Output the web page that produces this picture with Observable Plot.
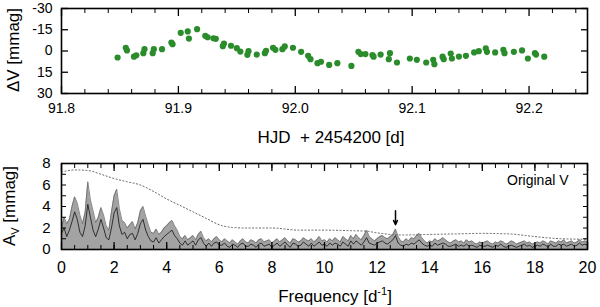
<!DOCTYPE html>
<html>
<head>
<meta charset="utf-8">
<script src="https://cdn.jsdelivr.net/npm/d3@7"></script>
<script src="https://cdn.jsdelivr.net/npm/@observablehq/plot@0.6"></script>
<style>
  html, body { margin: 0; padding: 0; background: white; }
  #chart { position: relative; width: 600px; height: 307px; overflow: hidden; font-family: "Liberation Sans", Arial, sans-serif; }
  #chart svg { position: absolute; left: 0; }
</style>
</head>
<body>
<div id="chart"></div>
<script>
// ---------- Light curve (top panel) ----------
const hjd = [91.848, 91.855, 91.856, 91.862, 91.864, 91.870, 91.871, 91.878, 91.879, 91.886,
  91.894, 91.895, 91.902, 91.908, 91.909, 91.916, 91.923, 91.925, 91.930, 91.932,
  91.939, 91.938, 91.945, 91.950, 91.953, 91.960, 91.959, 91.967, 91.974, 91.975,
  91.981, 91.983, 91.989, 91.991, 91.998, 92.005, 92.011, 92.013, 92.019, 92.022,
  92.029, 92.036, 92.048, 92.054, 92.056, 92.060, 92.066, 92.067, 92.073, 92.081,
  92.080, 92.087, 92.098, 92.104, 92.112, 92.118, 92.119, 92.126, 92.127, 92.133,
  92.134, 92.140, 92.146, 92.153, 92.157, 92.163, 92.164, 92.171, 92.178, 92.179,
  92.187, 92.194, 92.199, 92.205, 92.206, 92.213];
const deltaV = [4.6, -2.3, -0.4, 4.0, 3.0, 1.5, -1.3, 1.5, -1.3, -1.3,
  -6.0, -4.8, -12.8, -13.8, -8.8, -15.4, -10.7, -9.7, -9.0, -8.6,
  -5.3, -3.4, -3.7, -2.0, 0.4, 0.1, 2.7, 2.5, 1.5, -0.1,
  -2.3, -0.8, -1.3, -3.2, -2.3, 0.6, 3.4, 5.8, 8.6, 7.6,
  9.8, 8.6, 10.5, 0.6, 2.2, 2.2, 2.9, 4.0, 2.5, 1.5,
  5.8, 8.1, 5.3, 6.2, 8.1, 6.2, 9.3, 4.0, 5.8, 1.8,
  5.3, 3.9, 3.4, 1.0, 0.1, -1.8, 0.6, 1.0, -0.8, 1.5,
  0.6, -0.4, 5.3, 1.5, 2.5, 4.0];
const topXTicks = [91.8, 91.9, 92.0, 92.1, 92.2];
const topXMinor = [91.82, 91.84, 91.86, 91.88, 91.92, 91.94, 91.96, 91.98, 92.02, 92.04, 92.06, 92.08, 92.12, 92.14, 92.16, 92.18, 92.22, 92.24];
const topYTicks = [-30, -15, 0, 15, 30];

// ---------- Amplitude spectrum (bottom panel), sampled every 0.1 d^-1 from 0 to 20 ----------
const freqStep = 0.1;
const ampEnvelope = [
  2.0, 3.0, 2.4, 2.8, 4.0, 4.9, 4.3, 3.2, 2.4, 3.5,
  6.3, 4.6, 3.6, 2.5, 3.0, 3.9, 3.2, 2.2, 1.8, 3.5,
  5.0, 5.6, 3.8, 2.7, 2.5, 2.0, 2.3, 2.6, 1.9, 2.5,
  3.6, 4.0, 3.1, 2.3, 1.6, 1.5, 1.9, 1.4, 1.6, 2.0,
  2.2, 2.5, 2.7, 2.2, 1.8, 1.2, 1.0, 1.3, 0.9, 1.1,
  1.3, 0.9, 1.4, 1.7, 1.1, 0.8, 1.0, 0.7, 1.0, 1.2,
  0.9,
  0.7, 1.0, 0.8, 0.6, 0.9, 0.7, 0.5, 0.8, 1.0, 0.7, 0.6, 0.9, 0.8, 0.6, 0.9, 1.0, 0.7, 0.8, 0.9, 0.6,
  0.8, 1.0, 0.7, 0.9, 1.1, 0.8, 0.6, 1.0, 0.9, 0.7, 0.8, 1.1, 0.9, 0.8, 1.0, 0.7, 0.9, 1.2, 0.8, 0.9,
  0.7, 1.0, 0.8, 1.1, 0.9, 0.7, 1.2, 1.0, 0.8, 1.3, 1.0, 1.4, 1.1, 0.9, 1.3, 1.8, 1.2, 1.0, 0.8, 1.0,
  1.2, 1.3, 1.1, 1.0, 1.2, 1.4, 1.9, 1.2, 0.8, 0.7, 1.0, 0.8, 1.1, 1.0, 1.3, 1.5, 1.1, 0.8, 0.6, 0.8,
  0.7, 1.0, 0.8, 0.9, 1.1, 0.9, 0.7, 0.6, 0.8, 0.9, 0.7, 0.8, 0.6, 0.9, 0.7, 0.8, 0.6, 0.5, 0.7, 0.6,
  0.7, 0.8, 0.6, 0.5, 0.7, 0.6, 0.8, 0.7, 0.5, 0.6, 0.8, 0.7, 0.5, 0.6, 0.7, 0.8, 0.6, 0.7, 0.5, 0.6,
  0.7, 0.6, 0.8, 0.7, 0.5, 0.8, 0.7, 0.6, 0.8, 0.7, 0.9, 0.6, 0.7, 0.8, 0.6, 0.7, 0.9, 0.7, 0.8, 0.7];
const ampCore = [
  1.5, 2.0, 1.2, 1.8, 2.6, 3.5, 2.8, 1.6, 1.2, 2.2,
  4.2, 3.0, 1.8, 1.2, 1.9, 2.8, 2.0, 1.1, 0.9, 2.0,
  3.4, 3.9, 2.2, 1.4, 1.6, 1.0, 1.4, 1.5, 0.9, 1.5,
  2.4, 2.8, 1.8, 1.2, 0.8, 0.7, 1.1, 0.6, 0.9, 1.2,
  1.4, 1.6, 1.8, 1.3, 1.0, 0.6, 0.4, 0.8, 0.4, 0.6,
  0.8, 0.4, 0.9, 1.1, 0.6, 0.3, 0.6, 0.3, 0.6, 0.7,
  0.4,
  0.4, 0.6, 0.3, 0.2, 0.5, 0.4, 0.2, 0.5, 0.6, 0.3,
  0.3, 0.5, 0.4, 0.2, 0.5, 0.6, 0.3, 0.4, 0.5, 0.2,
  0.4, 0.6, 0.3, 0.5, 0.7, 0.4, 0.2, 0.6, 0.5, 0.3,
  0.4, 0.7, 0.5, 0.3, 0.6, 0.3, 0.5, 0.7, 0.4, 0.5,
  0.3, 0.6, 0.4, 0.6, 0.5, 0.3, 0.7, 0.5, 0.3, 0.8,
  0.5, 0.8, 0.6, 0.4, 0.7, 1.1, 0.6, 0.5, 0.4, 0.6,
  0.7, 0.8, 0.6, 0.5, 0.7, 0.9, 1.3, 0.6, 0.4, 0.3,
  0.5, 0.4, 0.6, 0.5, 0.7, 0.9, 0.6, 0.4, 0.3, 0.4,
  0.3, 0.6, 0.4, 0.5, 0.6, 0.5, 0.3, 0.3, 0.4, 0.5,
  0.3, 0.4, 0.3, 0.5, 0.3, 0.4, 0.3, 0.2, 0.4, 0.3,
  0.3, 0.4, 0.3, 0.2, 0.4, 0.3, 0.5, 0.3, 0.2, 0.3,
  0.4, 0.3, 0.2, 0.3, 0.4, 0.5, 0.3, 0.4, 0.2, 0.3,
  0.4, 0.3, 0.5, 0.4, 0.2, 0.5, 0.3, 0.3, 0.5, 0.4,
  0.5, 0.3, 0.4, 0.5, 0.3, 0.4, 0.6, 0.4, 0.5, 0.4];
// significance level (dotted)
const sigFreq = [0, 0.5, 1, 1.5, 2, 2.5, 3, 3.5, 4, 4.5, 5, 5.5, 6, 6.5, 7, 8, 9, 10, 11, 11.6, 12, 12.5, 13, 14, 15, 16, 17, 18, 19, 20];
const sigAmp  = [7.2, 7.4, 7.35, 7.0, 6.6, 6.3, 6.0, 5.4, 4.7, 4.1, 3.5, 2.9, 2.3, 2.05, 2.0, 2.0, 1.8, 1.8, 1.75, 1.7, 1.55, 1.4, 1.35, 1.4, 1.45, 1.5, 1.45, 1.2, 1.0, 0.95];
// marked frequency
const markedFreq = [12.7];
const arrowFrom = [3.6];
const arrowTo = [2.3];
const botXTicks = [0, 2, 4, 6, 8, 10, 12, 14, 16, 18, 20];
const botXMinor = d3.range(0, 20.01, 0.5);
const botYTicks = [0, 2, 4, 6, 8];
const botYMinor = [0, 1, 2, 3, 4, 5, 6, 7, 8];

const FONT = '"Liberation Sans", Arial, Helvetica, sans-serif';
const chart = document.getElementById("chart");

// ---------- top plot ----------
const lc = hjd.map((t, i) => ({t, dv: deltaV[i]}));
const topPlot = Plot.plot({
  width: 600, height: 145,
  marginLeft: 61, marginRight: 13, marginTop: 8, marginBottom: 52,
  style: {fontFamily: FONT, fontSize: "14px", color: "black", background: "transparent", overflow: "visible"},
  x: {domain: [91.8, 92.25]},
  y: {domain: [30, -30]},
  marks: [
    Plot.dot(lc, {x: "t", y: "dv", r: 3.1, fill: "#2a8c2a", stroke: "none"}),
    Plot.axisX(topXMinor, {anchor: "bottom", tickSize: -4, tickFormat: () => "", label: null}),
    Plot.axisX(topXMinor, {anchor: "top", tickSize: -4, tickFormat: () => "", label: null}),
    Plot.axisX(topXTicks, {anchor: "bottom", tickSize: -7, tickFormat: () => "", label: null, strokeWidth: 1.3}),
    Plot.axisX(topXTicks, {anchor: "top", tickSize: -7, tickFormat: () => "", label: null, strokeWidth: 1.3}),
    Plot.axisX(topXTicks, {anchor: "bottom", tickSize: 0, tickPadding: 10, tickFormat: d3.format(".1f"), label: null, fontSize: 14}),
    Plot.axisY(topYTicks, {anchor: "left", tickSize: -7, tickFormat: () => "", label: null, strokeWidth: 1.3}),
    Plot.axisY(topYTicks, {anchor: "right", tickSize: -7, tickFormat: () => "", label: null, strokeWidth: 1.3}),
    Plot.axisY(topYTicks, {anchor: "left", tickSize: 0, tickPadding: 9, tickFormat: d => String(d), label: null, fontSize: 14}),
    Plot.frame({stroke: "black", strokeWidth: 1.6})
  ]
});
topPlot.style.top = "0px";
chart.appendChild(topPlot);
{
  const s = d3.select(topPlot);
  s.append("text").attr("x", 331).attr("y", 143).attr("text-anchor", "middle")
    .attr("font-size", 17).attr("font-family", FONT).attr("fill", "black")
    .attr("xml:space", "preserve").text("HJD  + 2454200 [d]");
  s.append("text").attr("transform", "translate(19,50) rotate(-90)").attr("text-anchor", "middle")
    .attr("font-size", 17).attr("font-family", FONT).attr("fill", "black").text("ΔV [mmag]");
}

// ---------- bottom plot ----------
const spec = ampEnvelope.map((a, i) => ({f: Math.round(i * freqStep * 10) / 10, hi: a, lo: ampCore[i]}));
const sig = sigFreq.map((f, i) => ({f, a: sigAmp[i]}));
const arr = markedFreq.map((f, i) => ({f, from: arrowFrom[i], to: arrowTo[i]}));
const botPlot = Plot.plot({
  width: 600, height: 162,
  marginLeft: 61, marginRight: 13, marginTop: 18, marginBottom: 58,
  style: {fontFamily: FONT, fontSize: "15px", color: "black", background: "transparent", overflow: "visible"},
  x: {domain: [0, 20]},
  y: {domain: [0, 8]},
  marks: [
    Plot.areaY(spec, {x: "f", y: "hi", fill: "#a3a3a3"}),
    Plot.lineY(spec, {x: "f", y: "hi", stroke: "#6a6a6a", strokeWidth: 0.8}),
    Plot.lineY(spec, {x: "f", y: "lo", stroke: "#111", strokeWidth: 0.8}),
    Plot.line(sig, {x: "f", y: "a", stroke: "#666", strokeWidth: 1, strokeDasharray: "1.2,2.3", curve: "monotone-x"}),
    Plot.arrow(arr, {x1: "f", x2: "f", y1: "from", y2: "to", stroke: "black", strokeWidth: 1.5, headLength: 6, headAngle: 50}),
    Plot.text(["Original V"], {frameAnchor: "top-right", dx: -19, dy: 12, fontSize: 14, fill: "black"}),
    Plot.axisX(botXMinor, {anchor: "bottom", tickSize: -4, tickFormat: () => "", label: null}),
    Plot.axisX(botXMinor, {anchor: "top", tickSize: -4, tickFormat: () => "", label: null}),
    Plot.axisX(botXTicks, {anchor: "bottom", tickSize: -7, tickFormat: () => "", label: null, strokeWidth: 1.3}),
    Plot.axisX(botXTicks, {anchor: "top", tickSize: -7, tickFormat: () => "", label: null, strokeWidth: 1.3}),
    Plot.axisX(botXTicks, {anchor: "bottom", tickSize: 0, tickPadding: 12, tickFormat: d => String(d), label: null, fontSize: 16}),
    Plot.axisY(botYMinor, {anchor: "left", tickSize: -5, tickFormat: () => "", label: null}),
    Plot.axisY(botYMinor, {anchor: "right", tickSize: -5, tickFormat: () => "", label: null}),
    Plot.axisY(botYTicks, {anchor: "left", tickSize: 0, tickPadding: 11, tickFormat: d => String(d), label: null, fontSize: 15}),
    Plot.frame({stroke: "black", strokeWidth: 1.6})
  ]
});
botPlot.style.top = "145px";
chart.appendChild(botPlot);
{
  const s = d3.select(botPlot);
  const t = s.append("text").attr("x", 335).attr("y", 157).attr("text-anchor", "middle")
    .attr("font-size", 17).attr("font-family", FONT).attr("fill", "black");
  t.append("tspan").text("Frequency [d");
  t.append("tspan").attr("dy", -7).attr("font-size", 11).text("-1");
  t.append("tspan").attr("dy", 7).text("]");
  const y = s.append("text").attr("transform", "translate(15,61) rotate(-90)").attr("text-anchor", "middle")
    .attr("font-size", 17).attr("font-family", FONT).attr("fill", "black");
  y.append("tspan").text("A");
  y.append("tspan").attr("dy", 4).attr("font-size", 11).text("V");
  y.append("tspan").attr("dy", -4).text(" [mmag]");
}
</script>
</body>
</html>
